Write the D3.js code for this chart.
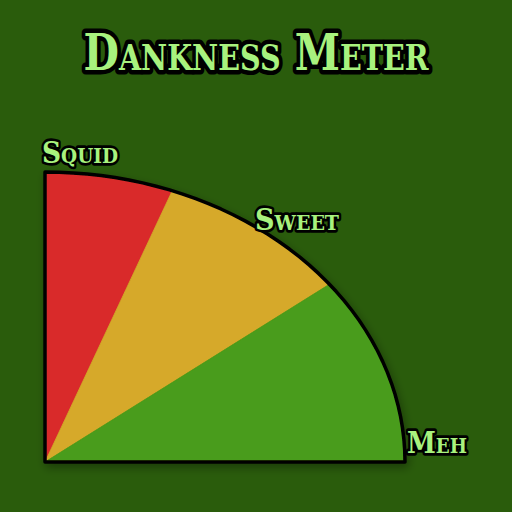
<!DOCTYPE html>
<html><head><meta charset="utf-8">
<script src="https://cdn.jsdelivr.net/npm/d3@7"></script>
<style>html,body{margin:0;padding:0;background:#2a5c0c;}svg{display:block;}</style>
</head><body>
<script>
const categories = ["Squid", "Sweet", "Meh"];
const values = [23, 35, 42];
const colors = ["#d92b2b", "#d6a92a", "#4a9c1a"];
const title = "Dankness Meter";

const W = 512, H = 512;
const cx = 45, cy = 462, rx = 360, ry = 290;
const svg = d3.select("body").append("svg").attr("width", W).attr("height", H);
svg.append("rect").attr("width", W).attr("height", H).attr("fill", "#2a5c0c");

const defs = svg.append("defs");
const f = defs.append("filter").attr("id","sh").attr("x","-20%").attr("y","-20%").attr("width","140%").attr("height","140%");
f.append("feGaussianBlur").attr("in","SourceAlpha").attr("stdDeviation",5);
f.append("feOffset").attr("dx",2).attr("dy",4).attr("result","b");
f.append("feComponentTransfer").append("feFuncA").attr("type","linear").attr("slope",0.35);
const m = f.append("feMerge"); m.append("feMergeNode"); m.append("feMergeNode").attr("in","SourceGraphic");

const pie = d3.pie().sort(null).startAngle(0).endAngle(Math.PI/2);
const arcs = pie(values);
const pt = a => [cx + rx*Math.sin(a), cy - ry*Math.cos(a)];
function slicePath(a0, a1) {
  const n = 40, pts = [[cx, cy]];
  for (let i = 0; i <= n; i++) pts.push(pt(a0 + (a1-a0)*i/n));
  return d3.line()(pts) + "Z";
}
const g = svg.append("g").attr("filter","url(#sh)");
g.selectAll("path.s").data(arcs).join("path").attr("class","s")
  .attr("d", d => slicePath(d.startAngle, d.endAngle))
  .attr("fill", (d,i) => colors[i]).attr("stroke", (d,i)=>colors[i]).attr("stroke-width",0.8);
g.append("path").attr("d", slicePath(0, Math.PI/2))
  .attr("fill","none").attr("stroke","#000").attr("stroke-width",3.5).attr("stroke-linejoin","round");

const font = "'DejaVu Serif', serif";
function label(txt, x, y, size, len) {
  svg.append("text").attr("x", x).attr("y", y).attr("text-anchor","middle")
    .attr("font-family", font).attr("font-weight","bold").attr("font-size", size)
    .style("font-variant","small-caps")
    .attr("textLength", len).attr("lengthAdjust","spacingAndGlyphs")
    .attr("fill","#a8f27e").attr("stroke","#000").attr("stroke-width", size/5.5)
    .attr("stroke-linejoin","round").attr("paint-order","stroke")
    .text(txt);
}
label(title, 256, 70, 50, 345);
const labelPos = [[80,163,30,76],[297,230,30,84],[437,453,30,60]];
categories.forEach((c,i) => label(c, labelPos[i][0], labelPos[i][1], labelPos[i][2], labelPos[i][3]));
</script>
</body></html>
